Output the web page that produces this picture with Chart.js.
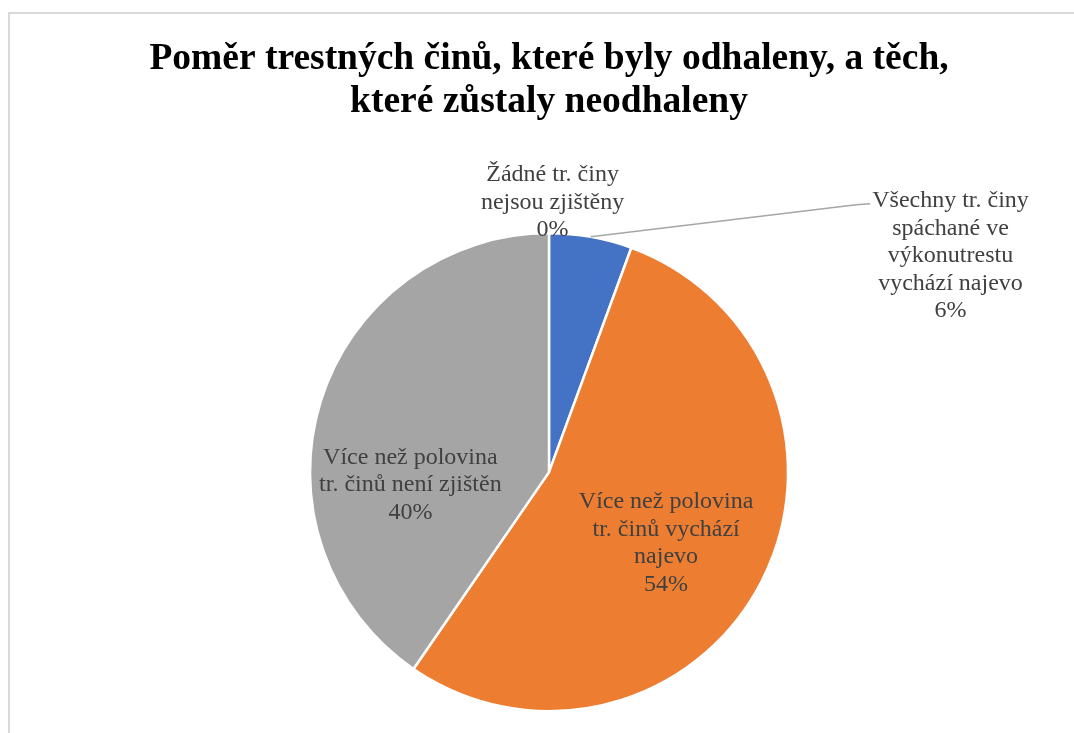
<!DOCTYPE html>
<html>
<head>
<meta charset="utf-8">
<script src="https://cdn.jsdelivr.net/npm/chart.js@4.4.1/dist/chart.umd.min.js"></script>
<style>
  html, body { margin: 0; padding: 0; background: #fff; overflow: hidden; }
  #frame { position: absolute; left: 8px; top: 12px; width: 1400px; height: 1000px; border: 2px solid #d9d9d9; box-sizing: border-box; }
  #wrap { position: absolute; left: 0; top: 0; width: 1074px; height: 733px; }
</style>
</head>
<body>
<div id="frame"></div>
<div id="wrap"><canvas id="c" width="1074" height="733"></canvas></div>
<script>
// ---- data ----
const titleLines = ["Poměr trestných činů, které byly odhaleny, a těch,", "které zůstaly neodhaleny"];
const categories = [
  "Všechny tr. činy spáchané ve výkonutrestu vychází najevo",
  "Více než polovina tr. činů vychází najevo",
  "Více než polovina tr. činů není zjištěn",
  "Žádné tr. činy nejsou zjištěny"
];
const values = [5.6, 54.0, 40.4, 0];
const labelLines = [
  ["Všechny tr. činy", "spáchané ve", "výkonutrestu", "vychází najevo"],
  ["Více než polovina", "tr. činů vychází", "najevo"],
  ["Více než polovina", "tr. činů není zjištěn"],
  ["Žádné tr. činy", "nejsou zjištěny"]
];
const colors = ["#4472C4", "#ED7D31", "#A5A5A5", "#FFC000"];

// label block centres relative to pie centre, in units of the radius
const labelPos = [
  { x: 1.68, y: -0.905, leader: true },
  { x: 0.49, y: 0.298 },
  { x: -0.58, y: 0.053 },
  { x: 0.015, y: -1.128 }
];

const FONT = '"Liberation Serif", "Times New Roman", serif';

const labelPlugin = {
  id: 'pieLabels',
  afterDatasetsDraw(chart) {
    const ctx = chart.ctx;
    const meta = chart.getDatasetMeta(0);
    const total = values.reduce((a, b) => a + b, 0);
    ctx.save();
    ctx.font = '24px ' + FONT;
    ctx.fillStyle = '#404040';
    ctx.textAlign = 'center';
    ctx.textBaseline = 'middle';
    const lh = 27.5;
    meta.data.forEach((arc, i) => {
      const p = arc.getProps(['x', 'y', 'startAngle', 'endAngle', 'outerRadius'], true);
      const R = p.outerRadius;
      const cx = p.x + labelPos[i].x * R;
      const cy = p.y + labelPos[i].y * R;
      const lines = labelLines[i].concat([Math.round(values[i] / total * 100) + '%']);
      const top = cy - (lines.length - 1) * lh / 2;
      if (labelPos[i].leader) {
        const mid = (p.startAngle + p.endAngle) / 2;
        const sx = p.x + Math.cos(mid) * R;
        const sy = p.y + Math.sin(mid) * R;
        let maxW = 0;
        lines.forEach(t => { maxW = Math.max(maxW, ctx.measureText(t).width); });
        const ex = cx - maxW / 2 - 2;
        const ey = top + 3;
        ctx.save();
        ctx.strokeStyle = '#A6A6A6';
        ctx.lineWidth = 1.5;
        ctx.beginPath();
        ctx.moveTo(sx, sy);
        ctx.lineTo(ex - 14, ey + 1);
        ctx.lineTo(ex, ey);
        ctx.stroke();
        ctx.restore();
      }
      lines.forEach((t, k) => ctx.fillText(t, cx, top + k * lh));
    });
    ctx.restore();
  }
};

new Chart(document.getElementById('c'), {
  type: 'pie',
  data: {
    labels: categories,
    datasets: [{
      data: values,
      backgroundColor: colors,
      borderColor: '#ffffff',
      borderWidth: 2.5,
      radius: 239
    }]
  },
  options: {
    responsive: false,
    animation: false,
    layout: { padding: { left: 24, right: 0, top: 0, bottom: 21 } },
    plugins: {
      legend: { display: false },
      tooltip: { enabled: false },
      title: {
        display: true,
        text: titleLines,
        color: '#000000',
        font: { family: FONT, size: 37.5, weight: 'bold', lineHeight: 1.15 },
        padding: { top: 38, bottom: 108 }
      }
    }
  },
  plugins: [labelPlugin]
});
</script>
</body>
</html>
